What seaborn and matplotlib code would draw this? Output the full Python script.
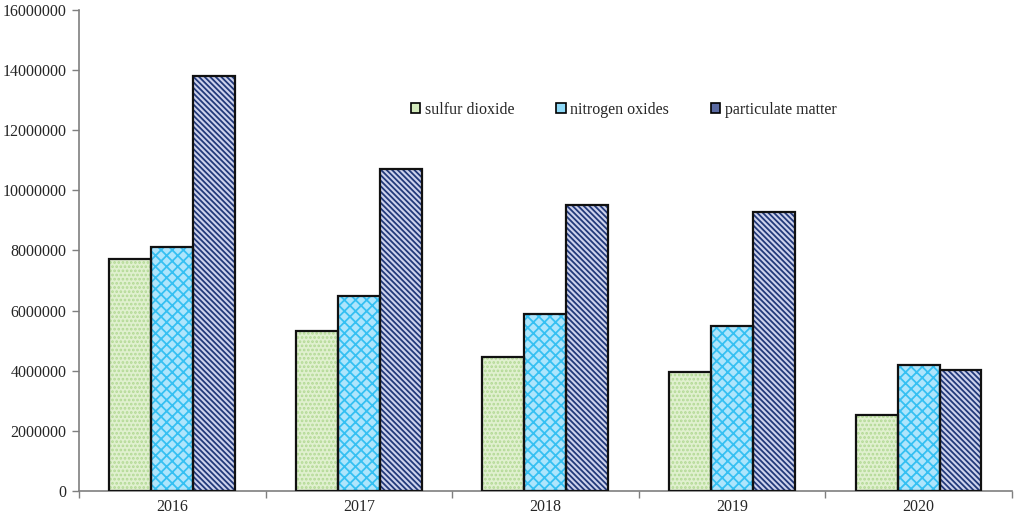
import pandas as pd
import seaborn as sns
import matplotlib.pyplot as plt
from matplotlib.patches import Patch, Rectangle
from matplotlib.ticker import FuncFormatter, MultipleLocator, FixedLocator

# values
years = ["2016", "2017", "2018", "2019", "2020"]
sulfur_dioxide = [7720000, 5320000, 4470000, 3950000, 2530000]
nitrogen_oxides = [8120000, 6490000, 5890000, 5490000, 4190000]
particulate_matter = [13800000, 10710000, 9510000, 9280000, 4010000]
pollutants = ["sulfur dioxide", "nitrogen oxides", "particulate matter"]

df = pd.DataFrame({
    "year": years * 3,
    "pollutant": [pollutants[0]] * 5 + [pollutants[1]] * 5 + [pollutants[2]] * 5,
    "value": sulfur_dioxide + nitrogen_oxides + particulate_matter,
})

# fill colour, hatch, hatch colour per series
styles = {
    "sulfur dioxide": ("#e0f0cf", "....", "#b2d994"),
    "nitrogen oxides": ("#aee5fc", "xxx", "#36c0f2"),
    "particulate matter": ("#cdd2ec", "\\" * 6, "#22397a"),
}
legend_colors = {"sulfur dioxide": "#d4ebbd", "nitrogen oxides": "#8fdaf8",
                 "particulate matter": "#5a6aa2"}

sns.set_style("white")
plt.rcParams['font.family'] = ['Liberation Serif', 'DejaVu Serif']
plt.rcParams['hatch.linewidth'] = 1.3

fig = plt.figure(figsize=(10.21, 5.19), dpi=100)
ax = fig.add_axes([0.0774, 0.054, 0.9136, 0.927])

sns.barplot(data=df, x="year", y="value", hue="pollutant", hue_order=pollutants,
            order=years, width=0.675, ax=ax, legend=False,
            palette=[styles[p][0] for p in pollutants])

# seaborn adds bars hue by hue, so patches come in groups of 5
bars = [p for p in ax.patches if isinstance(p, Rectangle)]
for i, bar in enumerate(bars):
    face, hatch, hcol = styles[pollutants[i // len(years)]]
    bar.set_facecolor(face)
    bar.set_hatch(hatch)
    bar.set_edgecolor(hcol)
    bar.set_linewidth(0)
    ax.add_patch(Rectangle(bar.get_xy(), bar.get_width(), bar.get_height(),
                           fill=False, edgecolor="#111111", linewidth=1.6, zorder=3))

ax.set_ylim(0, 16000000)
ax.set_xlim(-0.5, len(years) - 0.5)
ax.yaxis.set_major_locator(MultipleLocator(2000000))
ax.yaxis.set_major_formatter(FuncFormatter(lambda v, p: f"{int(v)}"))
ax.xaxis.set_minor_locator(FixedLocator([k - 0.5 for k in range(len(years) + 1)]))
ax.set_xlabel("")
ax.set_ylabel("")

for side in ["top", "right"]:
    ax.spines[side].set_visible(False)
for side in ["left", "bottom"]:
    ax.spines[side].set_color("#7f7f7f")
    ax.spines[side].set_linewidth(1.2)

ax.tick_params(axis="y", which="major", left=True, length=5, width=1, color="#7f7f7f",
               labelsize=11.5, pad=4)
ax.tick_params(axis="x", which="major", bottom=False, labelsize=11.5, pad=2)
ax.tick_params(axis="x", which="minor", bottom=True, length=5, width=1, color="#7f7f7f")

handles = [Patch(facecolor=legend_colors[p], edgecolor="black", linewidth=1.2) for p in pollutants]
ax.legend(handles, pollutants, loc="center", bbox_to_anchor=(0.584, 0.792), ncol=3,
          frameon=False, fontsize=11.5, handlelength=0.6, handleheight=0.6,
          handletextpad=0.3, columnspacing=2.6)

fig.savefig("out.png", dpi=100)
